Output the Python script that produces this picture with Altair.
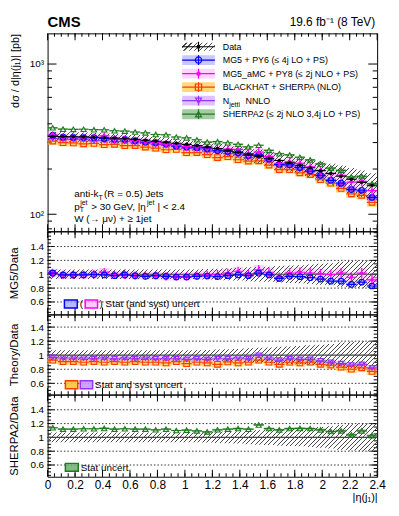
import math
import altair as alt
import pandas as pd

# ---------------- data ----------------
ETA_EDGES = [0.0, 0.075, 0.15, 0.225, 0.3, 0.375, 0.45, 0.525, 0.6, 0.675, 0.75, 0.825,
             0.9, 0.975, 1.05, 1.125, 1.2, 1.275, 1.35, 1.425, 1.5, 1.575, 1.65, 1.725,
             1.8, 1.875, 1.95, 2.025, 2.1, 2.175, 2.25, 2.325, 2.4]
DATA_XS = [330, 329, 328, 327, 325, 323, 321, 318, 315, 311, 306, 302, 297, 292, 286, 280,
           274, 267, 259, 251, 244, 236, 228, 220, 212, 204, 195, 187, 179, 171, 163, 156]
DATA_UNC = [0.07, 0.07, 0.07, 0.07, 0.07, 0.07, 0.07, 0.07, 0.07, 0.07, 0.07, 0.07, 0.07, 0.07,
            0.07, 0.075, 0.08, 0.085, 0.09, 0.10, 0.105, 0.11, 0.12, 0.125, 0.13, 0.14, 0.15,
            0.16, 0.18, 0.19, 0.20, 0.20]
MG5_R = [1.015, 0.99, 0.99, 0.99, 0.995, 0.99, 0.98, 0.99, 0.98, 0.97, 0.98, 0.97, 0.96, 0.96,
         0.97, 0.975, 0.967, 0.98, 0.99, 0.98, 1.015, 0.99, 0.94, 0.97, 0.965, 0.95, 0.93, 0.90,
         0.90, 0.853, 0.886, 0.83]
MG5_U = [0.015, 0.015, 0.015, 0.015, 0.015, 0.015, 0.015, 0.015, 0.015, 0.015, 0.015, 0.015,
         0.015, 0.015, 0.015, 0.015, 0.018, 0.018, 0.018, 0.018, 0.02, 0.02, 0.02, 0.02, 0.022,
         0.022, 0.025, 0.025, 0.025, 0.028, 0.028, 0.03]
AMC_R = [1.02, 0.99, 0.99, 0.99, 1.0, 1.03, 0.99, 0.99, 0.98, 0.98, 0.98, 0.97, 0.97, 0.97,
         0.98, 0.99, 0.996, 1.015, 1.043, 1.005, 1.062, 1.029, 0.957, 1.015, 1.029, 1.015,
         1.005, 0.996, 1.015, 0.957, 1.015, 0.92]
AMC_U = [0.06, 0.06, 0.06, 0.06, 0.06, 0.06, 0.06, 0.06, 0.06, 0.06, 0.06, 0.06, 0.06, 0.06,
         0.06, 0.06, 0.065, 0.065, 0.065, 0.065, 0.07, 0.07, 0.07, 0.07, 0.07, 0.07, 0.07, 0.07,
         0.075, 0.075, 0.075, 0.075]
BH_R = [0.93, 0.91, 0.91, 0.90, 0.91, 0.90, 0.91, 0.90, 0.91, 0.90, 0.90, 0.89, 0.91, 0.88,
        0.90, 0.89, 0.87, 0.905, 0.89, 0.90, 0.93, 0.90, 0.87, 0.90, 0.89, 0.90, 0.87, 0.86,
        0.83, 0.80, 0.82, 0.77]
BH_U = [0.05, 0.05, 0.05, 0.05, 0.05, 0.05, 0.05, 0.05, 0.05, 0.05, 0.05, 0.05, 0.05, 0.05,
        0.05, 0.05, 0.05, 0.05, 0.05, 0.05, 0.05, 0.05, 0.05, 0.05, 0.05, 0.05, 0.05, 0.05,
        0.05, 0.05, 0.05, 0.05]
NJ_R = [0.97, 0.96, 0.96, 0.96, 0.95, 0.96, 0.95, 0.96, 0.95, 0.96, 0.95, 0.95, 0.95, 0.94,
        0.95, 0.94, 0.95, 0.95, 0.96, 0.95, 1.00, 0.96, 0.93, 0.95, 0.94, 0.94, 0.92, 0.90,
        0.88, 0.86, 0.87, 0.82]
NJ_U = [0.035, 0.035, 0.035, 0.035, 0.035, 0.035, 0.035, 0.035, 0.035, 0.035, 0.035, 0.035,
        0.035, 0.035, 0.035, 0.035, 0.035, 0.035, 0.035, 0.035, 0.035, 0.035, 0.035, 0.035,
        0.035, 0.035, 0.035, 0.035, 0.035, 0.035, 0.035, 0.035]
SH_R = [1.14, 1.12, 1.12, 1.125, 1.125, 1.13, 1.12, 1.125, 1.12, 1.12, 1.11, 1.12, 1.10, 1.105,
        1.095, 1.08, 1.11, 1.12, 1.128, 1.119, 1.18, 1.128, 1.109, 1.128, 1.13, 1.128, 1.109,
        1.085, 1.095, 1.037, 1.095, 1.024]
SH_U = [0.012, 0.012, 0.012, 0.012, 0.012, 0.012, 0.012, 0.012, 0.012, 0.012, 0.012, 0.012,
        0.012, 0.012, 0.012, 0.012, 0.014, 0.014, 0.014, 0.014, 0.015, 0.015, 0.015, 0.015,
        0.016, 0.016, 0.018, 0.018, 0.018, 0.02, 0.02, 0.02]

LEGEND_LABELS = ["Data", "MG5 + PY6 (\u2264 4j LO + PS)", "MG5_aMC + PY8 (\u2264 2j NLO + PS)",
                 "BLACKHAT + SHERPA (NLO)", "N", "SHERPA2 (\u2264 2j NLO 3,4j LO + PS)"]
X_MAJOR = [0, 0.2, 0.4, 0.6, 0.8, 1.0, 1.2, 1.4, 1.6, 1.8, 2.0, 2.2, 2.4]
R_MAJOR = [0.6, 0.8, 1.0, 1.2, 1.4]

# ---------------- layout / style ----------------
W = 333
H_MAIN, H_R1, H_R2, H_R3 = 200, 84, 81, 83
MAIN_DOM = [77, 1600]
R1_DOM, R2_DOM, R3_DOM = [0.42, 1.62], [0.44, 1.58], [0.43, 1.62]
FONT = "Liberation Sans"
X_MINOR = [round(0.05 * i, 3) for i in range(1, 48)]
LOG_MINOR = [80, 90, 200, 300, 400, 500, 600, 700, 800, 900]

STY = {
    "mg5": dict(r=MG5_R, u=MG5_U, line="#0000ff", band="#9a9aff", op=0.55, shape="circle",
                filled=False, size=32, err=False),
    "amc": dict(r=AMC_R, u=AMC_U, line="#ff00ff", band="#ffb0ff", op=0.55, shape="circle",
                filled=True, size=12, err=True),
    "bh": dict(r=BH_R, u=BH_U, line="#ff3c00", band="#ffc433", op=0.65, shape="square",
               filled=False, size=32, err=False),
    "nj": dict(r=NJ_R, u=NJ_U, line="#9933ff", band="#c49bff", op=0.6, shape="triangle-down",
               filled=False, size=28, err=False),
    "sh": dict(r=SH_R, u=SH_U, line="#1f7a1f", band="#66aa66", op=0.6, shape="triangle-up",
               filled=False, size=28, err=False),
}

xs = alt.Scale(domain=[0, 2.4], nice=False, zero=False)
one = pd.DataFrame({"a": [0]})


class Panel:
    def __init__(self, ys, yax, xax, h):
        self.ys, self.yax, self.xax, self.h = ys, yax, xax, h

    def X(self, f):
        return alt.X(f, type="quantitative", scale=xs, axis=self.xax)

    def Y(self, f):
        return alt.Y(f, type="quantitative", scale=self.ys, axis=self.yax)


def hatch(w, h, period=4.6, frac=0.22, color="#4a4a4a"):
    r = h / w
    a = (1 + r) / (1 + r * r)
    b = a * r
    n = max(1, int(round((w + h) / period)))
    stops = []
    for i in range(n):
        o1 = (i + 1 - frac) / n
        stops += [alt.GradientStop(color="rgba(0,0,0,0)", offset=i / n),
                  alt.GradientStop(color="rgba(0,0,0,0)", offset=o1),
                  alt.GradientStop(color=color, offset=o1),
                  alt.GradientStop(color=color, offset=(i + 1) / n)]
    return alt.LinearGradient(gradient="linear", stops=stops, x1=0, y1=0, x2=a, y2=b)


def frame(ratio, unc, base):
    rows = []
    for k in range(len(ratio)):
        b = base[k] if base else 1.0
        lo, hi = ETA_EDGES[k], ETA_EDGES[k + 1]
        rows.append({"lo": lo, "hi": hi, "c": (lo + hi) / 2, "v": ratio[k] * b,
                     "b1": (ratio[k] - unc[k]) * b, "b2": (ratio[k] + unc[k]) * b})
    return pd.DataFrame(rows)


def step_frame(base):
    rows = []
    for k in range(len(ETA_EDGES)):
        j = min(k, len(DATA_UNC) - 1)
        b = base[j] if base else 1.0
        rows.append({"e": ETA_EDGES[k], "y1": (1 - DATA_UNC[j]) * b, "y2": (1 + DATA_UNC[j]) * b})
    return pd.DataFrame(rows)


def ticks(P, y_major, y_minor, ly_major, ly_minor, lx_major=7, lx_minor=3.5):
    h = P.h
    L = []
    dyM, dym = pd.DataFrame({"v": y_major}), pd.DataFrame({"v": y_minor})
    dxM, dxm = pd.DataFrame({"v": X_MAJOR}), pd.DataFrame({"v": X_MINOR})
    kw = dict(thickness=1, color="black", opacity=1)
    for xv, L_ in [(ly_major / 2, ly_major), (W - ly_major / 2, ly_major)]:
        L.append(alt.Chart(dyM).mark_tick(orient="horizontal", size=L_, **kw)
                 .encode(y=P.Y("v"), x=alt.value(xv)))
    for xv, L_ in [(ly_minor / 2, ly_minor), (W - ly_minor / 2, ly_minor)]:
        L.append(alt.Chart(dym).mark_tick(orient="horizontal", size=L_, **kw)
                 .encode(y=P.Y("v"), x=alt.value(xv)))
    for yv, L_ in [(h - lx_major / 2, lx_major), (lx_major / 2, lx_major)]:
        L.append(alt.Chart(dxM).mark_tick(orient="vertical", size=L_, **kw)
                 .encode(x=P.X("v"), y=alt.value(yv)))
    for yv, L_ in [(h - lx_minor / 2, lx_minor), (lx_minor / 2, lx_minor)]:
        L.append(alt.Chart(dxm).mark_tick(orient="vertical", size=L_, **kw)
                 .encode(x=P.X("v"), y=alt.value(yv)))
    return L


def band_layer(P, key, base):
    s = STY[key]
    df = frame(s["r"], s["u"], base)
    return (alt.Chart(df).mark_rect(color=s["band"], opacity=s["op"], clip=True)
            .encode(x=P.X("lo"), x2="hi", y=P.Y("b1"), y2="b2"))


def line_layers(P, key, base, dashed=False):
    s = STY[key]
    df = frame(s["r"], s["u"], base)
    kw = {"strokeDash": [4, 2]} if dashed else {}
    out = []
    if s["err"]:
        out.append(alt.Chart(df).mark_rule(color=s["line"], strokeWidth=1.2, clip=True)
                   .encode(x=P.X("c"), y=P.Y("b1"), y2="b2"))
    out.append(alt.Chart(df).mark_rule(color=s["line"], strokeWidth=1.2, clip=True, **kw)
               .encode(x=P.X("lo"), x2="hi", y=P.Y("v")))
    out.append(alt.Chart(df).mark_point(shape=s["shape"], filled=s["filled"], color=s["line"],
                                        size=s["size"], strokeWidth=1.1, opacity=1, clip=True)
               .encode(x=P.X("c"), y=P.Y("v")))
    return out


def hatch_layer(P, base, hpx):
    df = step_frame(base)
    return (alt.Chart(df).mark_area(interpolate="step-after", fill=hatch(W, hpx), clip=True)
            .encode(x=P.X("e"), y=P.Y("y1"), y2="y2"))


def txt(s, x, y, size=10, align="left", weight="normal", color="black", baseline="alphabetic"):
    return (alt.Chart(one).mark_text(text=s, font=FONT, fontSize=size, align=align,
                                     fontWeight=weight, color=color, baseline=baseline)
            .encode(x=alt.value(x), y=alt.value(y)))


def box(x1, x2, y1, y2, fill, stroke=None, op=1.0, sw=1.5):
    kw = {"stroke": stroke, "strokeWidth": sw} if stroke else {}
    return (alt.Chart(one).mark_rect(fill=fill, fillOpacity=op, **kw)
            .encode(x=alt.value(x1), x2=alt.value(x2), y=alt.value(y1), y2=alt.value(y2)))


def yaxis(title, h, values, labelexpr=None, fmt="~g", titley=None, align="center", tsize=11.5, tx=-30):
    kw = dict(values=values, ticks=False, tickSize=0, domain=False, grid=False,
              labelFont=FONT, labelFontSize=10, labelColor="black", labelPadding=4,
              title=title, titleFont=FONT, titleFontSize=tsize, titleFontWeight="normal",
              titleColor="black", titleX=tx, titleY=(h / 2 if titley is None else titley),
              titleAlign=align, titleBaseline="alphabetic", titleAngle=270)
    if labelexpr:
        kw["labelExpr"] = labelexpr
    else:
        kw["format"] = fmt
    return alt.Axis(**kw)


# ---------------- main panel ----------------
ys_main = alt.Scale(type="log", domain=MAIN_DOM, nice=False)
PM = Panel(ys_main,
           yaxis("d\u03c3 / d|\u03b7(j\u2081)|  [pb]", H_MAIN, [100, 1000],
                 labelexpr="datum.value == 100 ? '10\u00b2' : '10\u00b3'",
                 titley=0, align="right", tsize=11, tx=-29),
           None, H_MAIN)
lmax, lmin = math.log10(MAIN_DOM[1]), math.log10(MAIN_DOM[0])
ypx = lambda v: (lmax - math.log10(v)) / (lmax - lmin) * H_MAIN
hi_max = max(d * (1 + u) for d, u in zip(DATA_XS, DATA_UNC))
lo_min = min(d * (1 - u) for d, u in zip(DATA_XS, DATA_UNC))
h_main_band = ypx(lo_min) - ypx(hi_max)

main_layers = ticks(PM, [100, 1000], LOG_MINOR, 9, 4.5)
for k in ["bh", "nj", "amc", "mg5", "sh"]:
    main_layers.append(band_layer(PM, k, DATA_XS))
main_layers.append(hatch_layer(PM, DATA_XS, h_main_band))
for k in ["bh", "nj", "mg5", "amc"]:
    main_layers += line_layers(PM, k, DATA_XS)
main_layers += line_layers(PM, "sh", DATA_XS, dashed=True)
ddf = frame([1.0] * len(DATA_XS), [0.012] * len(DATA_XS), DATA_XS)
main_layers.append(alt.Chart(ddf).mark_rule(color="black", strokeWidth=1.2, clip=True)
                   .encode(x=PM.X("lo"), x2="hi", y=PM.Y("v")))
main_layers.append(alt.Chart(ddf).mark_rule(color="black", strokeWidth=1.2, clip=True)
                   .encode(x=PM.X("c"), y=PM.Y("b1"), y2="b2"))
main_layers.append(alt.Chart(ddf).mark_point(shape="circle", filled=True, color="black", size=12,
                                             opacity=1, clip=True)
                   .encode(x=PM.X("c"), y=PM.Y("v")))

# legend (main)
LX1, LX2, LXC, LTX = 136, 169, 152.5, 177
ROWS = [13.5, 27, 40.7, 54.3, 68, 81.7]
main_layers.append(box(LX1, LX2, ROWS[0] - 4, ROWS[0] + 4, hatch(33, 8, period=5)))
main_layers.append(box(LX1, LX2, ROWS[0] - 0.6, ROWS[0] + 0.6, "black"))
main_layers.append(box(LXC - 0.6, LXC + 0.6, ROWS[0] - 5, ROWS[0] + 5, "black"))
main_layers.append(alt.Chart(one).mark_point(shape="circle", filled=True, color="black", size=16, opacity=1)
                   .encode(x=alt.value(LXC), y=alt.value(ROWS[0])))
for i, k in enumerate(["mg5", "amc", "bh", "nj", "sh"]):
    s = STY[k]
    yc = ROWS[i + 1]
    main_layers.append(box(LX1, LX2, yc - 5, yc + 5, s["band"], op=s["op"]))
    main_layers.append(box(LX1, LX2, yc - 0.65, yc + 0.65, s["line"]))
    main_layers.append(box(LXC - 0.6, LXC + 0.6, yc - 5, yc + 5, s["line"]))
    main_layers.append(alt.Chart(one).mark_point(shape=s["shape"], filled=s["filled"], color=s["line"],
                                                 size=s["size"] + 8, strokeWidth=1.2, opacity=1)
                       .encode(x=alt.value(LXC), y=alt.value(yc)))
for i, lab in enumerate(LEGEND_LABELS):
    if i == 4:
        main_layers.append(txt("N", LTX, ROWS[4] + 3, 9))
        main_layers.append(txt("jetti", LTX + 6.5, ROWS[4] + 6, 7))
        main_layers.append(txt("NNLO", LTX + 23, ROWS[4] + 3, 9))
    else:
        main_layers.append(txt(lab, LTX, ROWS[i] + 3.2, 9))

# annotations
main_layers += [
    txt("CMS", 0, -6.5, 15, weight="bold"),
    txt("19.6 fb\u207b\u00b9 (8 TeV)", 331, -7.5, 12, align="right"),
    txt("anti-k", 27, 165, 10), txt("T", 51.5, 168, 7), txt("(R = 0.5) Jets", 57, 165, 10),
    txt("p", 27, 178.3, 10), txt("T", 32.5, 181, 7), txt("jet", 33, 173, 7),
    txt("> 30 GeV, |\u03b7", 44, 178.3, 10), txt("jet", 100.5, 173, 7), txt("| < 2.4", 111, 178.3, 10),
    txt("W (\u2192 \u03bc\u03bd) + \u2265 1jet", 27, 191, 10),
]

main = alt.layer(*main_layers).properties(width=W, height=H_MAIN)


# ---------------- ratio panels ----------------
def ratio_panel(dom, h, title, keys, xax):
    ys = alt.Scale(domain=dom, nice=False, zero=False)
    P = Panel(ys, yaxis(title, h, R_MAJOR), xax, h)
    r_minor = [round(0.05 * i, 3) for i in range(0, 40) if dom[0] < 0.05 * i < dom[1]]
    span = dom[1] - dom[0]
    hb = (max(1 + u for u in DATA_UNC) - min(1 - u for u in DATA_UNC)) / span * h
    L = ticks(P, R_MAJOR, r_minor, 7, 3.5)
    L.append(alt.Chart(pd.DataFrame({"v": [0.6, 0.8, 1.2, 1.4]}))
             .mark_rule(color="#333333", strokeWidth=1, strokeDash=[1.5, 2])
             .encode(y=P.Y("v")))
    for k in keys:
        L.append(band_layer(P, k, None))
    L.append(hatch_layer(P, None, hb))
    L.append(alt.Chart(pd.DataFrame({"v": [1.0]})).mark_rule(color="#444444", strokeWidth=1.2)
             .encode(y=P.Y("v")))
    for k in keys:
        L += line_layers(P, k, None)
    return L


p1_layers = ratio_panel(R1_DOM, H_R1, "MG5/Data", ["amc", "mg5"], None)
p1_layers += [box(17, 30, 69.5, 77.5, STY["mg5"]["band"], STY["mg5"]["line"], op=0.7),
              txt("(", 32.5, 77, 10),
              box(38, 50.5, 69.5, 77.5, STY["amc"]["band"], STY["amc"]["line"], op=0.7),
              txt(") Stat (and syst) uncert", 52.5, 77, 10)]
p1 = alt.layer(*p1_layers).properties(width=W, height=H_R1)

p2_layers = ratio_panel(R2_DOM, H_R2, "Theory/Data", ["bh", "nj"], None)
p2_layers += [box(18, 30.5, 67, 75, STY["bh"]["band"], STY["bh"]["line"], op=0.9),
              box(33, 45.5, 67, 75, STY["nj"]["band"], STY["nj"]["line"], op=0.9),
              txt("Stat and syst uncert", 48, 74.5, 10)]
p2 = alt.layer(*p2_layers).properties(width=W, height=H_R2)

x_axis = alt.Axis(values=X_MAJOR, format="~g", ticks=False, tickSize=0, domain=False, grid=False,
                  labelFont=FONT, labelFontSize=12, labelColor="black", labelPadding=3,
                  labelFlush=False, title="|\u03b7(j\u2081)|", titleFont=FONT, titleFontSize=11,
                  titleFontWeight="normal", titleColor="black", titleX=W, titleY=24,
                  titleAlign="right", titleBaseline="alphabetic")
p3_layers = ratio_panel(R3_DOM, H_R3, "SHERPA2/Data", ["sh"], x_axis)
p3_layers += [box(18, 31, 69.5, 77.5, STY["sh"]["band"], STY["sh"]["line"], op=0.8),
              txt("Stat uncert", 33.5, 77, 10)]
p3 = alt.layer(*p3_layers).properties(width=W, height=H_R3)

chart = (alt.vconcat(main, p1, p2, p3, spacing=0, bounds="flush")
         .properties(padding={"left": 0, "top": 4, "right": 5, "bottom": 5})
         .configure_view(stroke="black", strokeWidth=1)
         .configure_concat(spacing=0))

chart.save("out.html", embed_options={"renderer": "svg", "actions": False})
